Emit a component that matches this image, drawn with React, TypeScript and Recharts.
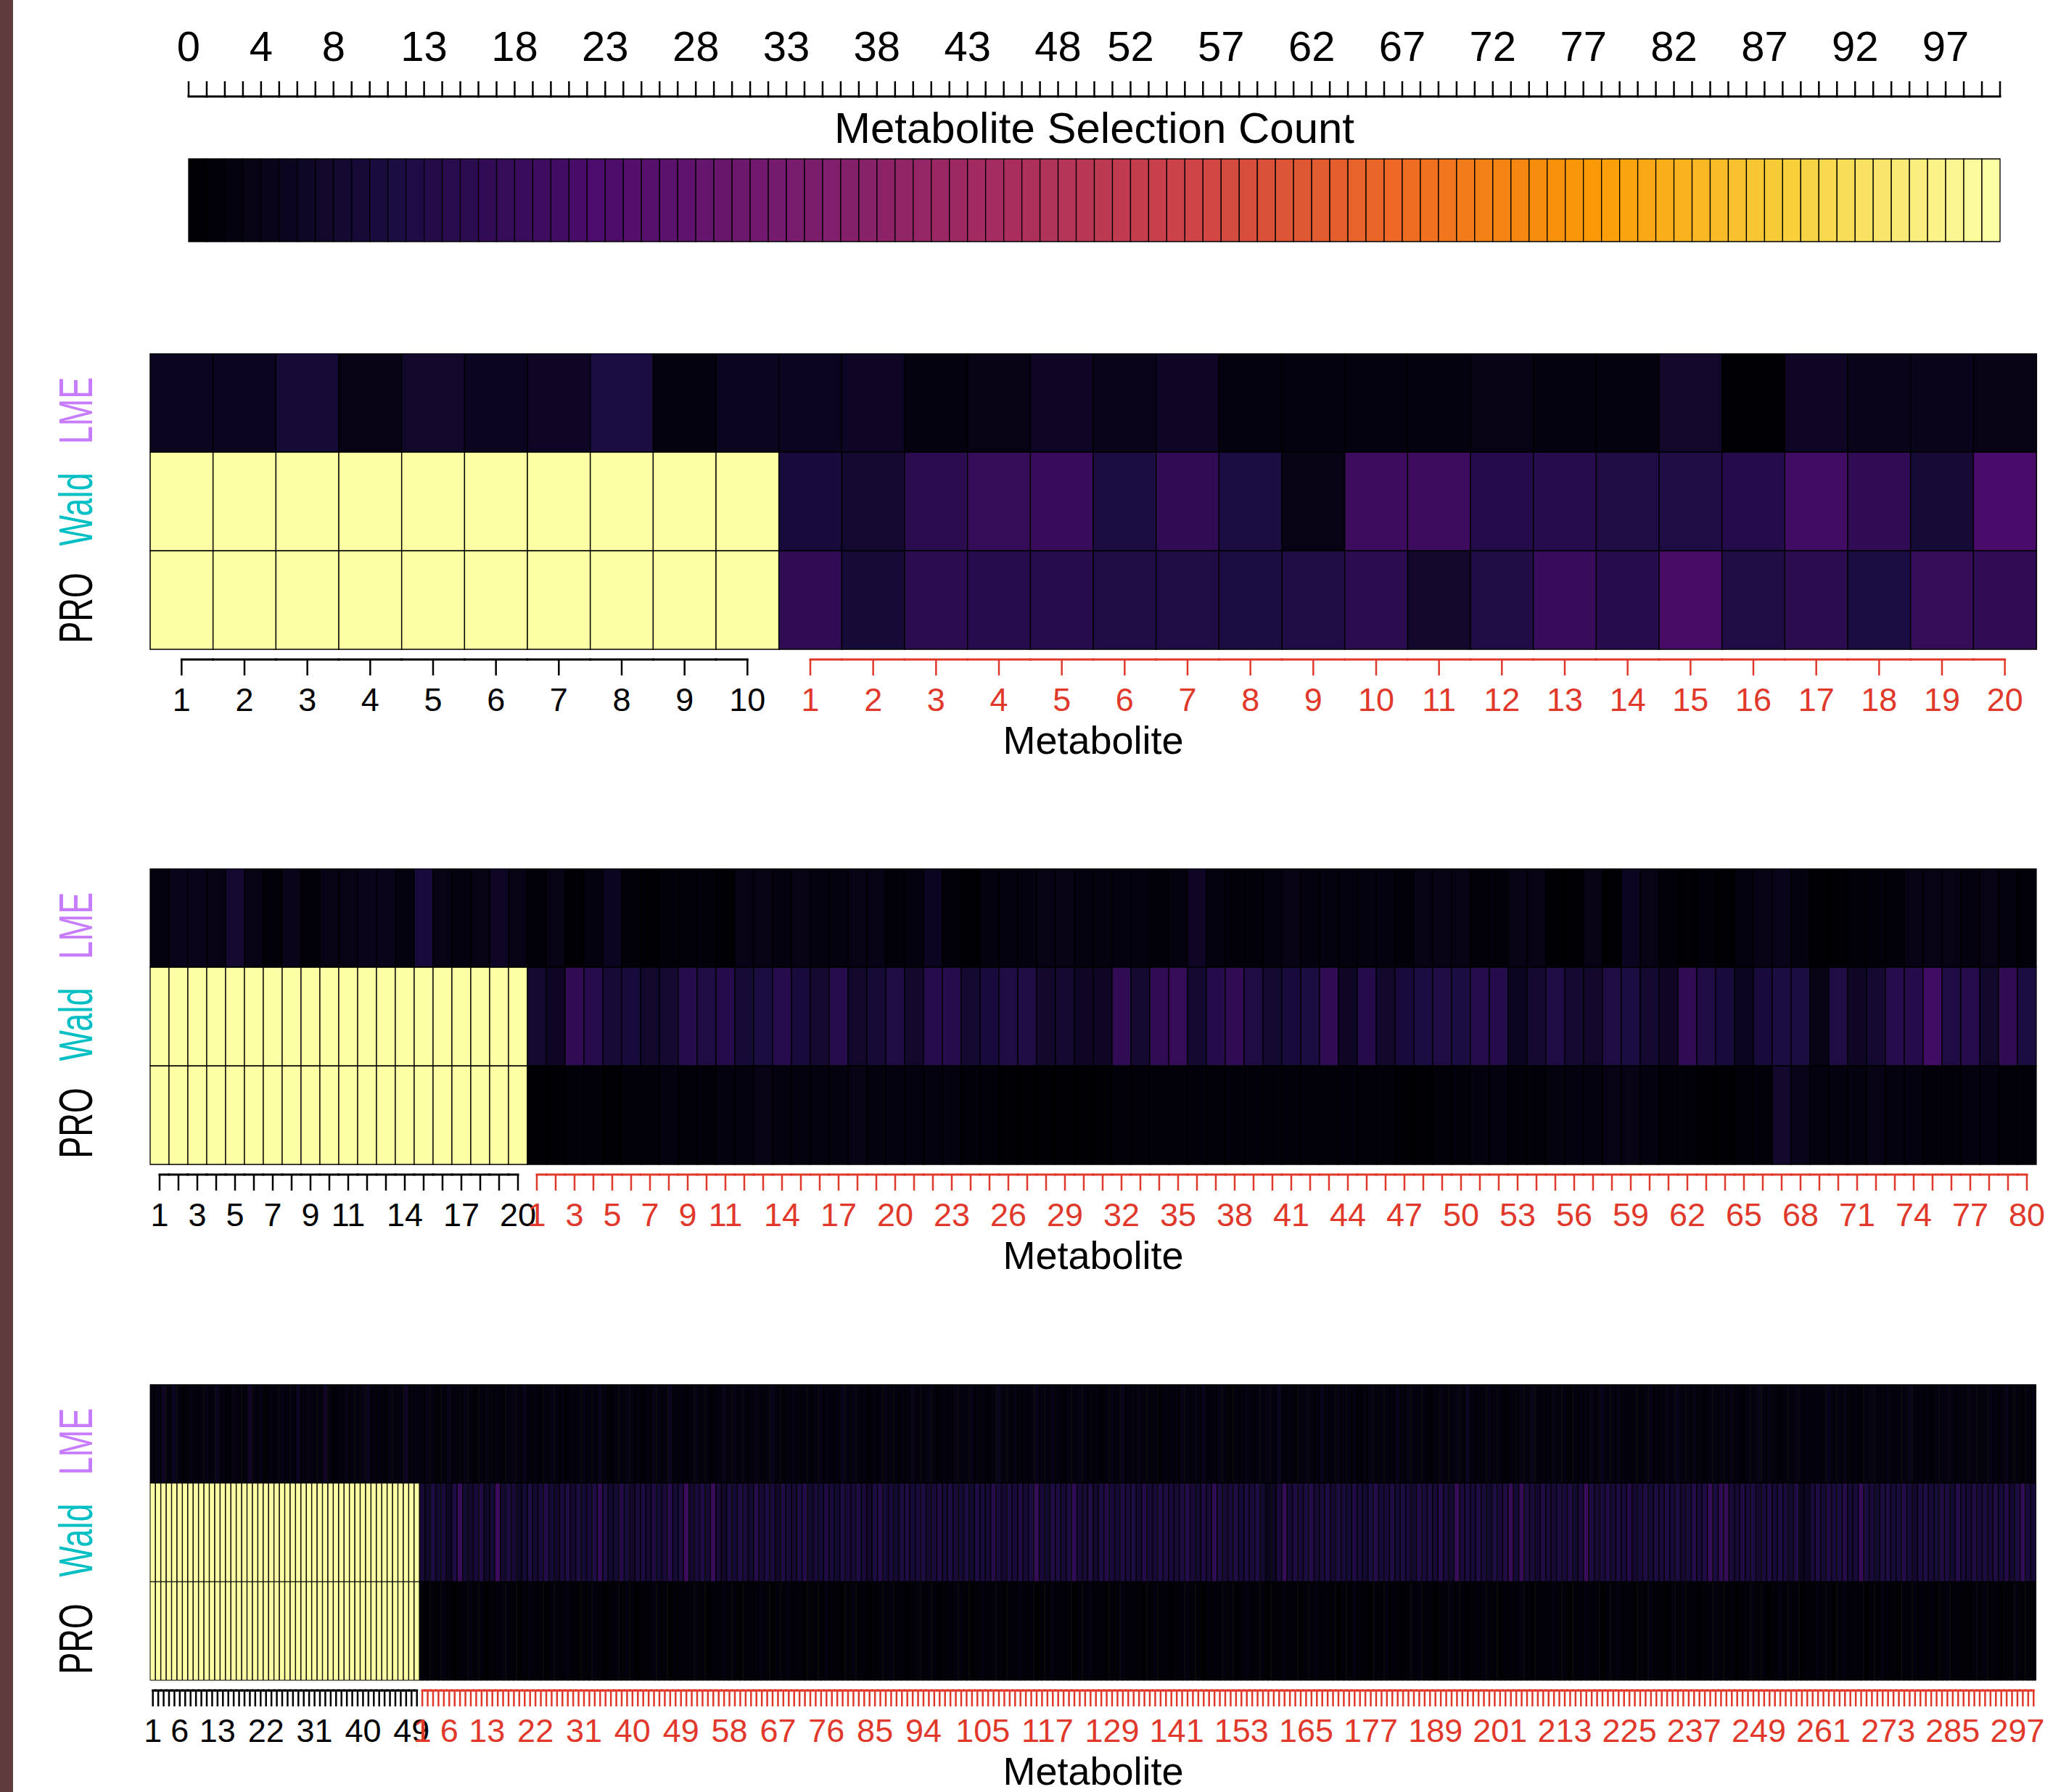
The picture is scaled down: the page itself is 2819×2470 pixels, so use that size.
import React from "react";
import { BarChart, Bar, Cell, XAxis, YAxis } from "recharts";

const W = 2819;
const H = 2470;
const FONT = '"Liberation Sans", Arial, Helvetica, sans-serif';
const RED = "#E0392B";

// inferno stops (viridisLite::inferno(10))
const INFERNO = ["#000004", "#1B0C42", "#4B0C6B", "#781C6D", "#A52C60", "#CF4446", "#ED6925", "#FB9A06", "#F7D03C", "#FCFFA4"];

const nums = (s: string) => s.trim().split(/\s+/).map(Number);

// ---------- colour key ----------
const countCells = Array.from({ length: 100 }, (_, i) => i);
const countTickLabels = [0, 4, 8, 13, 18, 23, 28, 33, 38, 43, 48, 52, 57, 62, 67, 72, 77, 82, 87, 92, 97];

// ---------- rows (bottom -> top) ----------
const rowNames = ["PRO", "Wald", "LME"];
const rowColors = ["#000000", "#00BFC4", "#C77CFF"];

// ---------- panel 1: 10 selected + 20 other ----------
const p1Lme = nums(`5 5 9 3 7 5 6 11 2 5
5 6 2 3 6 4 6 2 2 2 2 3 2 2 7 0 6 4 4 3`);
const p1Wald = nums(`100 100 100 100 100 100 100 100 100 100
10 8 15 17 18 11 16 11 3 19 19 13 14 12 12 13 20 16 9 22`);
const p1Pro = nums(`100 100 100 100 100 100 100 100 100 100
16 9 15 14 14 12 12 11 12 15 7 12 18 14 21 12 15 11 17 16`);
const p1SelLabels = [1, 2, 3, 4, 5, 6, 7, 8, 9, 10];
const p1OtherLabels = [1, 2, 3, 4, 5, 6, 7, 8, 9, 10, 11, 12, 13, 14, 15, 16, 17, 18, 19, 20];

// ---------- panel 2: 20 selected + 80 other ----------
const p2Lme = nums(`2 4 4 3 8 3 1 4 1 3 3 4 4 2 10 3 2 3 6 3
1 3 0 2 5 1 0 1 1 1
0 3 3 2 3 2 2 3 3 1
2 5 1 0 2 2 2 3 3 2
2 2 2 1 2 6 2 1 1 2
3 2 2 2 2 2 1 3 3 3
1 1 3 3 0 0 3 0 5 3
1 0 1 0 2 3 4 2 0 0
1 1 1 3 3 3 2 3 2 1`);
const p2Wald = nums(`100 100 100 100 100 100 100 100 100 100 100 100 100 100 100 100 100 100 100 100
8 6 16 14 9 10 7 8 14 12
13 9 11 14 10 8 14 7 9 12
7 14 14 8 10 12 12 7 8 6
6 16 8 16 17 8 13 16 12 8
10 11 16 6 13 7 10 11 12 11
14 13 5 8 12 8 7 12 11 8
6 16 12 10 5 10 11 11 3 12
6 8 14 13 20 12 14 7 16 11`);
const p2Pro = nums(`100 100 100 100 100 100 100 100 100 100 100 100 100 100 100 100 100 100 100 100
0 0 1 1 0 1 1 2 1 1
2 2 3 2 2 2 2 3 2 2
2 2 2 1 1 0 0 0 0 0
0 1 1 1 1 1 1 1 1 1
1 1 1 1 1 1 0 0 1 1
2 2 1 1 2 2 2 3 3 2
1 1 0 0 1 1 7 4 2 2
2 3 2 2 1 1 2 2 1 1`);
const p2SelLabels = [1, 3, 5, 7, 9, 11, 14, 17, 20];
const p2OtherLabels = [1, 3, 5, 7, 9, 11, 14, 17, 20, 23, 26, 29, 32, 35, 38, 41, 44, 47, 50, 53, 56, 59, 62, 65, 68, 71, 74, 77, 80];

// ---------- panel 3: 50 selected + 300 other ----------
const p3Lme = nums(`2 3 6 2 5 2 1 3 2 2
3 2 5 2 1 3 2 2 6 2
3 1 2 2 3 2 2 5 2 3
2 2 6 2 1 2 3 2 2 3
5 2 2 1 3 2 2 6 2 3
2 3 2 1 2 4 2 2 3 2
1 2 3 2 2 1 2 3 2 4
2 2 1 2 3 2 2 1 2 2
3 2 2 4 2 1 2 2 3 2
2 1 2 3 2 2 5 2 2 1
2 3 2 2 1 2 4 2 3 2
2 2 3 2 2 4 2 1 2 3
2 2 1 2 3 2 2 2 4 2
3 2 2 1 2 2 3 2 2 2
2 4 2 2 3 2 1 2 2 3
2 2 3 2 2 1 2 5 2 2
3 2 2 2 4 2 2 3 2 1
2 2 3 2 2 2 1 2 3 2
4 2 2 3 2 2 2 1 2 2
2 3 2 2 2 4 2 2 3 2
1 2 2 3 2 2 2 3 2 5
2 2 1 2 3 2 2 4 2 2
3 2 2 2 1 2 3 2 2 2
2 4 2 3 2 2 2 1 2 3
2 2 3 2 5 2 2 2 3 2
2 1 2 2 3 2 4 2 2 2
3 2 2 1 2 2 2 3 2 4
2 2 3 2 2 2 1 2 3 2
2 3 2 4 2 2 3 2 1 2
2 2 2 3 2 1 2 2 4 2
3 2 1 2 2 3 2 2 2 2
2 4 2 2 3 2 2 1 2 3
2 2 3 2 2 2 4 2 2 2
1 2 2 3 2 2 2 3 2 2
2 3 2 2 4 2 2 1 2 2`);
const p3Wald = nums(`100 100 100 100 100 100 100 100 100 100
100 100 100 100 100 100 100 100 100 100
100 100 100 100 100 100 100 100 100 100
100 100 100 100 100 100 100 100 100 100
100 100 100 100 100 100 100 100 100 100
9 7 11 8 10 6 12 18 9 8
10 12 7 9 19 8 11 10 6 9
11 8 10 13 9 7 10 12 8 11
9 10 12 16 11 8 9 13 10 7
10 11 8 12 9 10 14 9 11 19
8 10 12 9 18 10 7 11 9 12
10 8 13 9 11 10 7 12 10 9
11 13 8 10 9 12 10 8 11 10
9 12 10 7 11 13 9 10 8 11
12 9 10 11 8 10 12 9 11 10
9 11 8 12 10 9 13 10 8 11
10 12 9 11 17 10 8 12 11 9
11 16 10 9 12 8 11 13 10 9
12 10 11 8 13 10 9 12 11 10
9 11 13 10 8 12 10 16 11 9
10 12 9 11 10 12 8 5 6 10
17 9 12 10 11 13 9 10 12 8
11 10 9 12 10 8 11 13 9 10
12 9 11 10 8 12 10 11 9 13
10 8 18 10 11 9 12 10 8 11
10 12 17 9 17 11 10 8 12 10
9 11 10 12 8 10 18 11 9 10
12 9 11 10 13 8 10 12 9 11
10 12 9 11 8 10 13 10 12 17
11 16 17 10 9 12 10 11 8 10
12 9 11 10 8 12 5 6 10 11
9 12 10 11 13 9 10 17 11 10
8 11 12 9 10 13 10 8 11 12
10 9 12 11 8 13 10 9 12 10
11 9 12 10 13 8 11 16 10 9`);
const p3Pro = nums(`100 100 100 100 100 100 100 100 100 100
100 100 100 100 100 100 100 100 100 100
100 100 100 100 100 100 100 100 100 100
100 100 100 100 100 100 100 100 100 100
100 100 100 100 100 100 100 100 100 100
1 0 1 1 2 1 0 1 1 2
1 1 0 1 1 2 1 1 0 1
2 1 1 0 1 1 1 2 1 0
1 1 2 1 0 1 1 1 2 1
0 1 1 2 1 1 0 1 1 1
1 2 1 0 1 1 2 1 1 0
1 1 1 2 1 0 1 1 2 1
1 0 1 1 1 2 1 1 0 1
2 1 1 0 1 1 1 2 1 1
0 1 2 1 1 1 0 1 1 2
1 1 0 1 2 1 1 1 0 1
1 2 1 1 0 1 1 2 1 1
1 0 1 1 2 1 1 0 1 1
2 1 1 1 0 1 2 1 1 0
1 1 2 1 1 0 1 1 1 2
1 0 1 2 1 1 1 0 1 1
2 1 1 0 1 1 2 1 1 1
0 1 1 2 1 1 0 1 1 2
1 1 0 1 1 2 1 1 0 1
1 2 1 1 0 1 1 2 1 1
0 1 1 1 2 1 0 1 1 1
2 1 1 0 1 1 2 1 1 0
1 1 2 1 1 0 1 1 2 1
1 0 1 1 2 1 1 0 1 1
2 1 1 1 0 1 1 2 1 1
0 1 2 1 1 1 0 1 1 2
1 1 0 1 2 1 1 1 0 1
1 2 1 1 0 1 1 2 1 1
1 0 1 2 1 1 1 0 1 1
2 1 1 0 1 1 2 1 1 1`);
const p3SelLabels = [1, 6, 13, 22, 31, 40, 49];
const p3OtherLabels = [1, 6, 13, 22, 31, 40, 49, 58, 67, 76, 85, 94, 105, 117, 129, 141, 153, 165, 177, 189, 201, 213, 225, 237, 249, 261, 273, 285, 297];

// ---------- colour helpers ----------
function hex(h: string) {
  return [parseInt(h.slice(1, 3), 16), parseInt(h.slice(3, 5), 16), parseInt(h.slice(5, 7), 16)];
}
function inferno(t: number) {
  const n = INFERNO.length - 1;
  const p = Math.min(1, Math.max(0, t)) * n;
  const i = Math.min(n - 1, Math.floor(p));
  const f = p - i;
  const a = hex(INFERNO[i]);
  const b = hex(INFERNO[i + 1]);
  const c = a.map((v, k) => Math.round(v + (b[k] - v) * f));
  return `rgb(${c[0]},${c[1]},${c[2]})`;
}
const heat = (v: number) => inferno((Number.isFinite(v) ? v : 0) / 100);

// ---------- colour key ----------
const CB_LEFT = 260;
const CB_RIGHT = 2757;
const CB_TOP = 219;
const CB_BOTTOM = 333;

function ColorKey() {
  const data = countCells.map((c) => ({ cell: c, h: 1 }));
  const step = (CB_RIGHT - CB_LEFT) / countCells.length;
  const last = countCells[countCells.length - 1];
  // tick sits on each cell's left edge; the last cell also closes the right edge
  const tick = (p: any) => {
    const v = Number(p.payload.value);
    const edge = p.x - step / 2;
    return (
      <g>
        <line x1={edge} x2={edge + step} y1={133} y2={133} stroke="#000" strokeWidth={3} strokeLinecap="square" />
        <line x1={edge} x2={edge} y1={133} y2={112} stroke="#000" strokeWidth={2.5} />
        {v === last && <line x1={edge + step} x2={edge + step} y1={133} y2={112} stroke="#000" strokeWidth={2.5} />}
        {countTickLabels.includes(v) && (
          <text x={edge} y={84} textAnchor="middle" fontSize={58} fontFamily={FONT} fill="#000">
            {v}
          </text>
        )}
      </g>
    );
  };
  const title = () => (
    <text x={(CB_LEFT + CB_RIGHT) / 2} y={197} textAnchor="middle" fontSize={60} fontFamily={FONT} fill="#000">
      Metabolite Selection Count
    </text>
  );
  return (
    <div style={{ position: "absolute", left: 0, top: 0 }}>
      <BarChart
        width={W}
        height={CB_BOTTOM + 7}
        data={data}
        margin={{ top: 0, right: W - CB_RIGHT, bottom: 7, left: CB_LEFT }}
        barCategoryGap={0}
        barGap={0}
      >
        <XAxis
          dataKey="cell"
          orientation="top"
          interval={0}
          height={CB_TOP}
          axisLine={false}
          tickLine={false}
          tick={tick}
          label={{ content: title }}
        />
        <YAxis hide domain={[0, 1]} />
        <Bar dataKey="h" isAnimationActive={false}>
          {data.map((d) => (
            <Cell key={d.cell} fill={inferno(d.cell / 99)} stroke="#000" strokeWidth={1.3} />
          ))}
        </Bar>
      </BarChart>
    </div>
  );
}

// ---------- heatmap panels ----------
const PANEL_LEFT = 207;
const PANEL_RIGHT = 2807;
const PLOT_W = PANEL_RIGHT - PANEL_LEFT;
const PLOT_H = 408;
const PANEL_H = 585;

const rowTick = (p: any) => {
  const r = Math.round(Number(p.payload.value) - 0.5);
  return (
    <text
      transform={`translate(127, ${p.y + 11}) rotate(-90) scale(1, 1.43)`}
      textAnchor="middle"
      fontSize={45}
      fontFamily={FONT}
      fill={rowColors[r]}
    >
      {rowNames[r]}
    </text>
  );
};

type PanelProps = {
  top: number;
  nSel: number;
  lme: number[];
  wald: number[];
  pro: number[];
  selLabels: number[];
  otherLabels: number[];
  cellStroke: number;
  tickW: number;
};

function Panel({ top, nSel, lme, wald, pro, selLabels, otherLabels, cellStroke, tickW }: PanelProps) {
  const n = lme.length;
  const data = lme.map((v, i) => ({ idx: i + 1, lme: v, wald: wald[i], pro: pro[i], a: 1, b: 1, c: 1 }));
  const step = PLOT_W / n;
  const y0 = PLOT_H + 14;
  const tick = (p: any) => {
    const x = p.x;
    const idx = Number(p.payload.value);
    const sel = idx <= nSel;
    const num = sel ? idx : idx - nSel;
    const len = sel ? nSel : n - nSel;
    const col = sel ? "#000" : RED;
    const left = num === 1 ? x : x - step / 2;
    const right = num === len ? x : x + step / 2;
    const show = (sel ? selLabels : otherLabels).includes(num);
    return (
      <g>
        <line x1={left} x2={right} y1={y0} y2={y0} stroke={col} strokeWidth={3} strokeLinecap="square" />
        <line x1={x} x2={x} y1={y0} y2={y0 + 22} stroke={col} strokeWidth={tickW} />
        {show && (
          <text x={x} y={PLOT_H + 85} textAnchor="middle" fontSize={45} fontFamily={FONT} fill={col}>
            {num}
          </text>
        )}
      </g>
    );
  };
  const title = () => (
    <text x={PANEL_LEFT + PLOT_W / 2} y={PLOT_H + 144} textAnchor="middle" fontSize={54} fontFamily={FONT} fill="#000">
      Metabolite
    </text>
  );
  return (
    <div style={{ position: "absolute", left: 0, top }}>
      <BarChart
        width={W}
        height={PANEL_H}
        data={data}
        margin={{ top: 0, right: W - PANEL_RIGHT, bottom: 0, left: 0 }}
        barCategoryGap={0}
        barGap={0}
      >
        <XAxis
          dataKey="idx"
          interval={0}
          height={PANEL_H - PLOT_H}
          axisLine={false}
          tickLine={false}
          tick={tick}
          label={{ content: title }}
        />
        <YAxis
          type="number"
          domain={[0, 3]}
          ticks={[0.5, 1.5, 2.5]}
          interval={0}
          width={PANEL_LEFT}
          axisLine={false}
          tickLine={false}
          tick={rowTick}
        />
        <Bar dataKey="a" stackId="m" isAnimationActive={false}>
          {data.map((d) => (
            <Cell key={d.idx} fill={heat(d.pro)} stroke="#000" strokeWidth={cellStroke} />
          ))}
        </Bar>
        <Bar dataKey="b" stackId="m" isAnimationActive={false}>
          {data.map((d) => (
            <Cell key={d.idx} fill={heat(d.wald)} stroke="#000" strokeWidth={cellStroke} />
          ))}
        </Bar>
        <Bar dataKey="c" stackId="m" isAnimationActive={false}>
          {data.map((d) => (
            <Cell key={d.idx} fill={heat(d.lme)} stroke="#000" strokeWidth={cellStroke} />
          ))}
        </Bar>
      </BarChart>
    </div>
  );
}

export default function App() {
  return (
    <div style={{ position: "relative", width: W, height: H, background: "#fff", overflow: "hidden", fontFamily: FONT }}>
      <style>{"body{margin:0;}"}</style>
      <div style={{ position: "absolute", left: 0, top: 0, width: 18, height: H, background: "#5D3B3C" }} />
      <ColorKey />
      <Panel top={487} nSel={10} lme={p1Lme} wald={p1Wald} pro={p1Pro} selLabels={p1SelLabels} otherLabels={p1OtherLabels} cellStroke={1.5} tickW={2.5} />
      <Panel top={1197} nSel={20} lme={p2Lme} wald={p2Wald} pro={p2Pro} selLabels={p2SelLabels} otherLabels={p2OtherLabels} cellStroke={1.3} tickW={2.5} />
      <Panel top={1908} nSel={50} lme={p3Lme} wald={p3Wald} pro={p3Pro} selLabels={p3SelLabels} otherLabels={p3OtherLabels} cellStroke={1} tickW={2.5} />
    </div>
  );
}
